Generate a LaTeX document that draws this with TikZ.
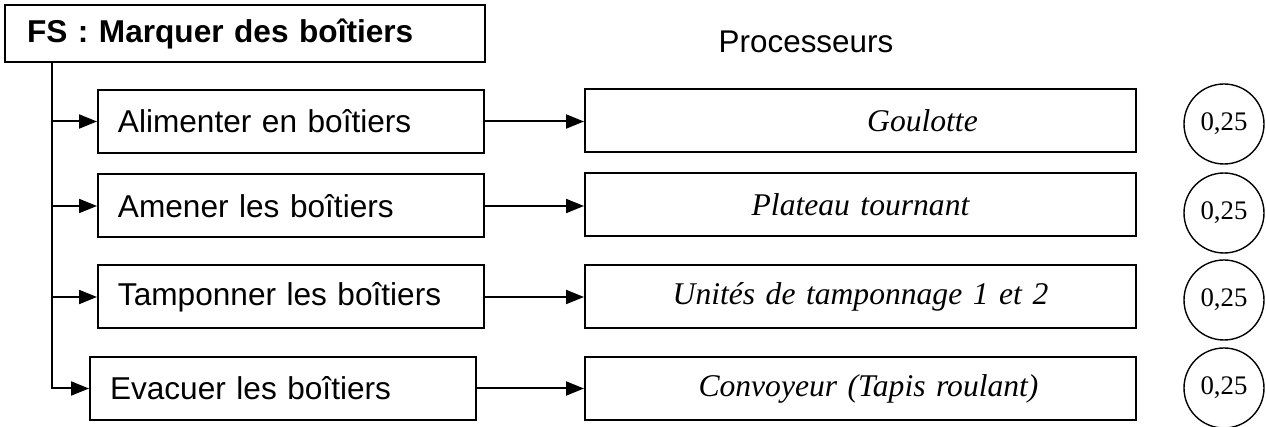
\documentclass[tikz,border=0pt]{standalone}
\usepackage{fontspec}
\setmainfont{Liberation Serif}
\setsansfont{Liberation Sans}
\usetikzlibrary{arrows.meta}

\begin{document}
\begin{tikzpicture}[x=0.5pt, y=-0.5pt, line width=1pt,
  fs/.style={draw, font=\sffamily\bfseries\fontsize{15.8}{18}\selectfont,
    text width=218pt, align=left, inner xsep=11pt, inner ysep=0pt, minimum height=28.5pt},
  tache/.style={draw, font=\sffamily\fontsize{15.8}{18}\selectfont,
    text width=173pt, align=left, inner xsep=10pt, inner ysep=0pt, minimum height=31.5pt},
  proc/.style={draw, font=\itshape\fontsize{15.8}{18}\selectfont,
    text width=265.5pt, align=center, inner xsep=5pt, inner ysep=0pt, minimum height=31.5pt},
  note/.style={draw, circle, line width=0.7pt, minimum size=40pt, inner sep=0pt,
    font=\fontsize{13.4}{15}\selectfont},
  fleche/.style={-{Triangle[length=9pt, width=7pt]}}]
 \useasboundingbox (0,0) rectangle (1266,427);
 \node[fs] (fs) at (245,33.5) {FS : Marquer des boîtiers};
 \node[font=\sffamily\fontsize{15.7}{18}\selectfont] (titre) at (806,42) {Processeurs};
 % fonctions de service
 \node[tache] (t1) at (291,121.5) {Alimenter en boîtiers};
 \node[tache] (t2) at (291,206) {Amener les boîtiers};
 \node[tache] (t3) at (291,297) {Tamponner les boîtiers};
 \node[tache] (t4) at (283,388.5) {Evacuer les boîtiers};
 % processeurs
 \node[proc] (p1) at (860.5,121) {\hspace*{62pt}Goulotte};
 \node[proc] (p2) at (860.5,205) {Plateau tournant};
 \node[proc] (p3) at (860.5,296.5) {Unités de tamponnage 1 et 2};
 \node[proc] (p4) at (860.5,388.5) {\hspace*{8pt}Convoyeur (Tapis roulant)};
 \node[note] (n1) at (1224,124) {0,25};
 \node[note] (n2) at (1224,213) {0,25};
 \node[note] (n3) at (1224,300) {0,25};
 \node[note] (n4) at (1224,388) {0,25};
 \coordinate (tronc) at (52,62);
 \draw[fleche] (tronc) |- (t1.west);
 \draw[fleche] (tronc) |- (t2.west);
 \draw[fleche] (tronc) |- (t3.west);
 \draw[fleche] (tronc) |- (t4.west);
 \draw[fleche] (t1.east) -- (t1.east -| p1.west);
 \draw[fleche] (t2.east) -- (t2.east -| p2.west);
 \draw[fleche] (t3.east) -- (t3.east -| p3.west);
 \draw[fleche] (t4.east) -- (t4.east -| p4.west);
\end{tikzpicture}
\end{document}
